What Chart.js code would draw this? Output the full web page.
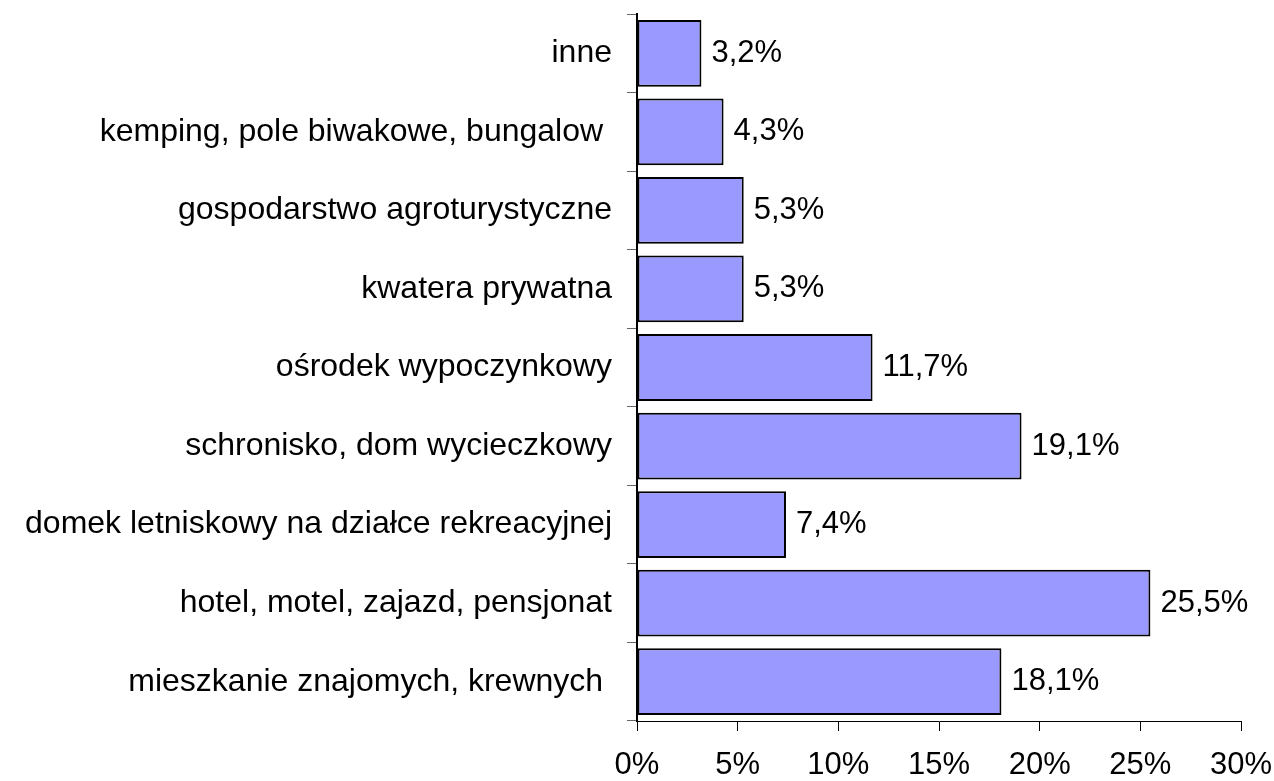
<!DOCTYPE html>
<html>
<head>
<meta charset="utf-8">
<script src="https://cdn.jsdelivr.net/npm/chart.js@4/dist/chart.umd.min.js"></script>
<style>
  html, body { margin: 0; padding: 0; background: #fff; }
  #wrap { width: 1274px; height: 781px; }
</style>
</head>
<body>
<div id="wrap"><canvas id="myChart" width="1274" height="781"></canvas></div>
<script>
const categories = [
  "inne",
  "kemping, pole biwakowe, bungalow ",
  "gospodarstwo agroturystyczne",
  "kwatera prywatna",
  "ośrodek wypoczynkowy",
  "schronisko, dom wycieczkowy",
  "domek letniskowy na działce rekreacyjnej",
  "hotel, motel, zajazd, pensjonat",
  "mieszkanie znajomych, krewnych "
];
const shares = [3.2, 4.3, 5.3, 5.3, 11.7, 19.1, 7.4, 25.5, 18.1];
const xTicks = [0, 5, 10, 15, 20, 25, 30];

const FONT = "'Liberation Sans', Arial, sans-serif";
const pct = v => v.toFixed(1).replace(".", ",") + "%";

// value labels to the right of each bar
const valueLabels = {
  id: "valueLabels",
  afterDatasetsDraw(chart) {
    const ctx = chart.ctx;
    const meta = chart.getDatasetMeta(0);
    ctx.save();
    ctx.font = "31px " + FONT;
    ctx.fillStyle = "#000";
    ctx.textAlign = "left";
    ctx.textBaseline = "middle";
    meta.data.forEach((bar, i) => {
      ctx.fillText(pct(shares[i]), bar.x + 10, bar.y);
    });
    ctx.restore();
  }
};

new Chart(document.getElementById("myChart"), {
  type: "bar",
  data: {
    labels: categories,
    datasets: [{
      data: shares,
      backgroundColor: "#9999ff",
      borderColor: "#000",
      borderWidth: 2,
      borderSkipped: false,
      barPercentage: 0.85,
      categoryPercentage: 1.0
    }]
  },
  options: {
    indexAxis: "y",
    responsive: false,
    animation: false,
    layout: { padding: { top: 14, right: 33, bottom: 0, left: 0 } },
    plugins: {
      legend: { display: false },
      tooltip: { enabled: false }
    },
    scales: {
      x: {
        min: 0,
        max: 30,
        afterBuildTicks: s => { s.ticks = xTicks.map(v => ({ value: v })); },
        afterFit: s => {
          s.height = 60;
          s.paddingLeft = 0;
          s.paddingRight = 0;
        },
        grid: { drawOnChartArea: false, tickLength: 10, color: "#000", lineWidth: 1 },
        border: { color: "#000", width: 1 },
        ticks: {
          padding: 16,
          color: "#000",
          font: { family: FONT, size: 31 },
          callback: v => v + "%",
          maxRotation: 0
        }
      },
      y: {
        afterFit: s => {
          s.width = 637;
          s.paddingTop = 0;
          s.paddingBottom = 0;
        },
        grid: { offset: true, drawOnChartArea: false, tickLength: 10, color: "#666", lineWidth: 1 },
        border: { color: "#000", width: 2 },
        ticks: {
          padding: 15,
          color: "#000",
          font: { family: FONT, size: 32 },
          autoSkip: false
        }
      }
    }
  },
  plugins: [valueLabels]
});
</script>
</body>
</html>
